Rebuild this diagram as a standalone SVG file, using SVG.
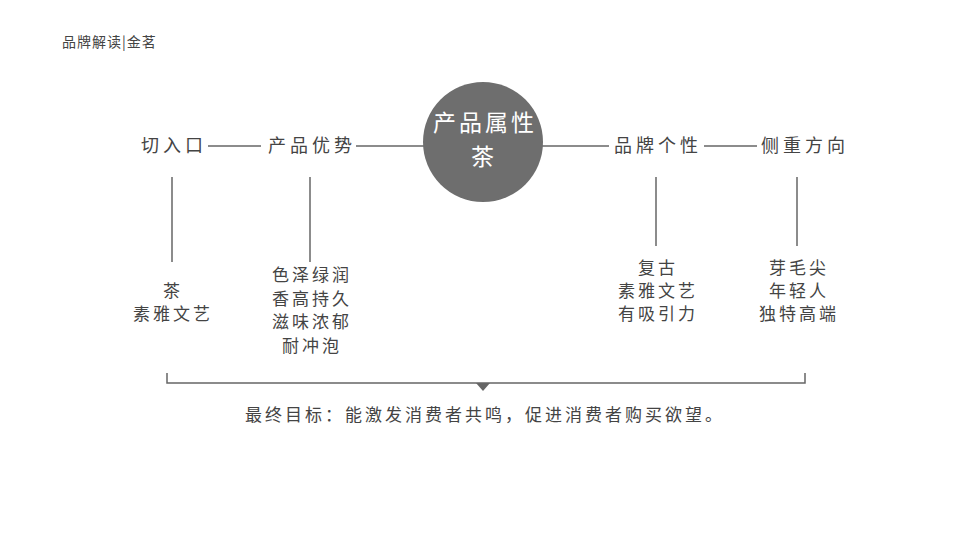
<svg xmlns="http://www.w3.org/2000/svg" width="960" height="540" viewBox="0 0 960 540">
<style>
text{font-family:"Noto Sans CJK SC","Noto Sans CJK TC",sans-serif;fill:#444;}
.lbl{font-size:18px;text-anchor:middle;letter-spacing:4px;}
.item{font-size:17px;text-anchor:middle;letter-spacing:3px;}
.ln{stroke:#666;stroke-width:1.5;fill:none;}
.ct{font-size:23px;fill:#fff;text-anchor:middle;letter-spacing:3px;}
</style>
<rect width="960" height="540" fill="#fff"/>
<text x="62" y="47" font-size="14" fill="#333" letter-spacing="1">品牌解读|金茗</text>
<g id="connectors">
<line class="ln" x1="208" y1="146" x2="261" y2="146"/>
<line class="ln" x1="356" y1="146" x2="424" y2="146"/>
<line class="ln" x1="542" y1="146" x2="609" y2="146"/>
<line class="ln" x1="704" y1="146" x2="757" y2="146"/>
<line class="ln" x1="172" y1="177" x2="172" y2="262"/>
<line class="ln" x1="310" y1="177" x2="310" y2="262"/>
<line class="ln" x1="656" y1="177" x2="656" y2="246"/>
<line class="ln" x1="797" y1="177" x2="797" y2="246"/>
<path class="ln" d="M167 373 V383 H805 V373"/>
<polygon points="476,383 490,383 483,391" fill="#666"/>
</g>
<g id="center">
<circle cx="483" cy="142" r="60" fill="#6e6e6e"/>
<text class="ct" x="485" y="131">产品属性</text>
<text class="ct" x="484" y="165">茶</text>
</g>
<g id="n1"><text class="lbl" x="174" y="152">切入口</text></g>
<g id="n2"><text class="lbl" x="312" y="152">产品优势</text></g>
<g id="n3"><text class="lbl" x="658" y="152">品牌个性</text></g>
<g id="n4"><text class="lbl" x="805" y="152">侧重方向</text></g>
<g id="d1">
<text class="item" x="173" y="297">茶</text>
<text class="item" x="173" y="320">素雅文艺</text>
</g>
<g id="d2">
<text class="item" x="312" y="281">色泽绿润</text>
<text class="item" x="312" y="305">香高持久</text>
<text class="item" x="312" y="328">滋味浓郁</text>
<text class="item" x="312" y="352">耐冲泡</text>
</g>
<g id="d3">
<text class="item" x="658" y="274">复古</text>
<text class="item" x="658" y="297">素雅文艺</text>
<text class="item" x="658" y="320">有吸引力</text>
</g>
<g id="d4">
<text class="item" x="799" y="274">芽毛尖</text>
<text class="item" x="799" y="297">年轻人</text>
<text class="item" x="799" y="320">独特高端</text>
</g>
<g id="goal"><text class="item" x="485" y="421" letter-spacing="3.5">最终目标：能激发消费者共鸣，促进消费者购买欲望。</text></g>
</svg>
